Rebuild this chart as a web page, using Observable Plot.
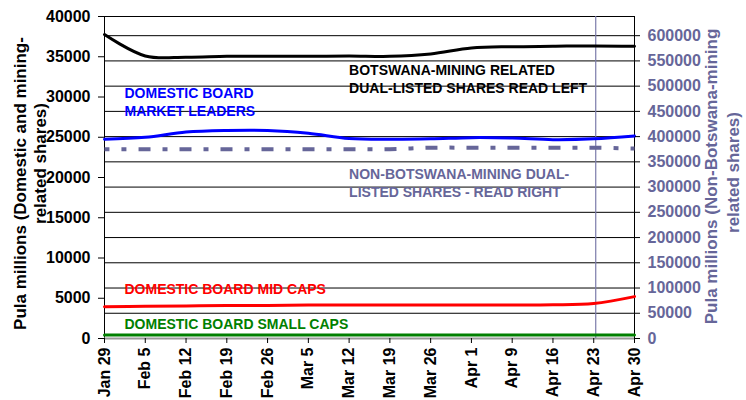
<!DOCTYPE html>
<html>
<head>
<meta charset="utf-8">
<script src="https://cdn.jsdelivr.net/npm/d3@7"></script>
<script src="https://cdn.jsdelivr.net/npm/@observablehq/plot@0.6"></script>
<style>
  body { margin: 0; background: #fff; }
  svg { font-family: "Liberation Sans", Arial, sans-serif; font-weight: bold; }
</style>
</head>
<body>
<div id="chart"></div>
<script>
// Weekly tick labels (evenly spaced)
const weeks = ["Jan 29","Feb 5","Feb 12","Feb 19","Feb 26","Mar 5","Mar 12","Mar 19","Mar 26","Apr 1","Apr 9","Apr 16","Apr 23","Apr 30"];

// Left axis series (Pula millions)
const botswanaMining = [37750, 35100, 34950, 35050, 35050, 35050, 35100, 35050, 35350, 36100, 36250, 36300, 36350, 36300];
const marketLeaders  = [24750, 25000, 25650, 25850, 25850, 25500, 24850, 24750, 24800, 24950, 24900, 24700, 24800, 25150];
const midCaps        = [3950, 4000, 4050, 4100, 4100, 4150, 4150, 4150, 4150, 4150, 4150, 4180, 4350, 5200];
const smallCaps      = [420, 420, 420, 420, 420, 420, 420, 420, 420, 420, 420, 420, 420, 430];

// Right axis series (Pula millions)
const nonBotswana    = [375000, 375000, 375000, 375000, 375000, 375000, 375000, 375000, 378000, 378000, 378000, 378000, 378000, 376500];

// Ticks
const leftTicks  = d3.range(0, 40001, 5000);
const rightTicks = d3.range(0, 600001, 50000);
const leftMax = 40000;
const rightMax = 638000;
const k = leftMax / rightMax;

const slate = "#666699";

const toRows = (arr) => arr.map((v, i) => ({i, v}));

const chart = Plot.plot({
  width: 746,
  height: 400,
  marginLeft: 104,
  marginRight: 112,
  marginTop: 16,
  marginBottom: 62,
  style: {fontFamily: "Liberation Sans, Arial, sans-serif", fontSize: "16px", fontWeight: "bold", background: "white", overflow: "visible"},
  x: {domain: [0, weeks.length - 1], axis: null},
  y: {domain: [0, leftMax], axis: null},
  marks: [
    Plot.ruleY(rightTicks.slice(1), {y: d => d * k, stroke: "black", strokeWidth: 1}),
    Plot.frame({stroke: "black", strokeWidth: 1}),
    Plot.ruleY([0], {stroke: "#999", strokeWidth: 2}),
    Plot.ruleX([12], {stroke: "#7b7bab", strokeWidth: 1.2, dx: 2}),
    Plot.line(toRows(nonBotswana), {x: "i", y: d => d.v * k, stroke: slate, strokeWidth: 4, strokeDasharray: "12,12,5,12", strokeDashoffset: 7, strokeLinecap: "butt", curve: "catmull-rom"}),
    Plot.line(toRows(botswanaMining), {x: "i", y: "v", stroke: "black", strokeWidth: 3, curve: "catmull-rom"}),
    Plot.line(toRows(marketLeaders), {x: "i", y: "v", stroke: "#0000ff", strokeWidth: 3, curve: "catmull-rom"}),
    Plot.line(toRows(midCaps), {x: "i", y: "v", stroke: "#ff0000", strokeWidth: 3, curve: "catmull-rom"}),
    Plot.line(toRows(smallCaps), {x: "i", y: "v", stroke: "#008000", strokeWidth: 3, curve: "catmull-rom"}),

    // Annotations
    Plot.text(["BOTSWANA-MINING RELATED\nDUAL-LISTED SHARES READ LEFT"], {x: 6, y: 32300, text: d => d, textAnchor: "start", lineHeight: 1.25, fontSize: 14, fill: "black"}),
    Plot.text(["DOMESTIC BOARD\nMARKET LEADERS"], {x: 0.49, y: 29430, text: d => d, textAnchor: "start", lineHeight: 1.25, fontSize: 14, fill: "#0000ff"}),
    Plot.text(["NON-BOTSWANA-MINING DUAL-\nLISTED SHARES - READ RIGHT"], {x: 6, y: 19370, text: d => d, textAnchor: "start", lineHeight: 1.28, fontSize: 14, fill: slate}),
    Plot.text(["DOMESTIC BOARD MID CAPS"], {x: 0.49, y: 6100, text: d => d, textAnchor: "start", fontSize: 14, fill: "#ff0000"}),
    Plot.text(["DOMESTIC BOARD SMALL CAPS"], {x: 0.49, y: 1690, text: d => d, textAnchor: "start", fontSize: 14, fill: "#008000"}),

    // Axes
    Plot.axisX(d3.range(weeks.length), {tickFormat: i => weeks[i], tickRotate: -90, tickSize: 5, tickPadding: 4, fontSize: 16, fill: "black", label: null}),
    Plot.axisY(leftTicks, {anchor: "left", tickSize: 6, tickPadding: 8, tickFormat: d3.format("d"), fontSize: 16, fill: "black", label: null}),
    Plot.axisY(rightTicks.map(v => v * k), {anchor: "right", tickSize: 5, tickPadding: 8, tickFormat: d => String(Math.round(d / k / 1000) * 1000), fontSize: 16, fill: slate, stroke: "black", label: null}),

    // Axis titles
    Plot.text(["Pula millions (Domestic and mining-"], {frameAnchor: "left", dx: -84, dy: 6, rotate: -90, text: d => d, fontSize: 17, fill: "black", textAnchor: "middle"}),
    Plot.text(["related shares)"], {frameAnchor: "left", dx: -64, dy: -14, rotate: -90, text: d => d, fontSize: 17, fill: "black", textAnchor: "middle"}),
    Plot.text(["Pula millions (Non-Botswana-mining"], {frameAnchor: "right", dx: 77, dy: -1, rotate: -90, text: d => d, fontSize: 17, fill: slate, textAnchor: "middle"}),
    Plot.text(["related shares)"], {frameAnchor: "right", dx: 99, dy: -5, rotate: -90, text: d => d, fontSize: 17, fill: slate, textAnchor: "middle"})
  ]
});

document.getElementById("chart").appendChild(chart);
</script>
</body>
</html>
